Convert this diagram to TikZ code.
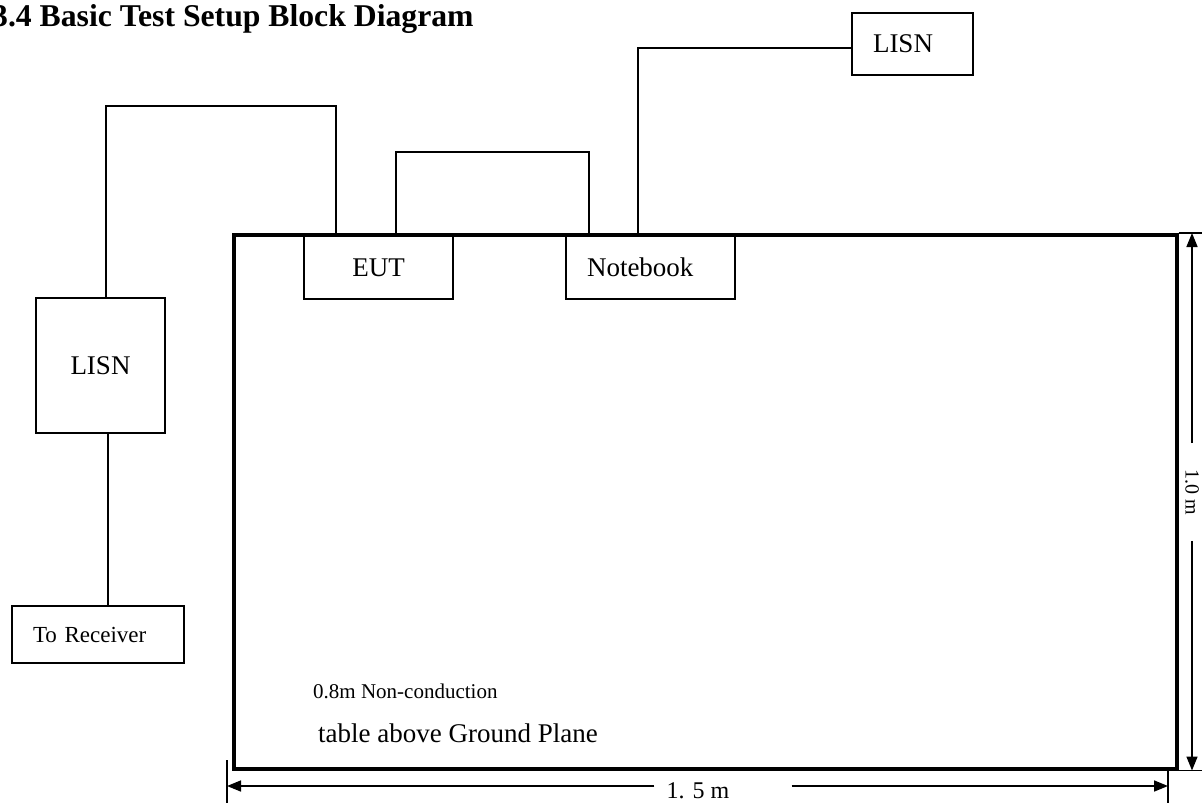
\documentclass[tikz,border=0pt]{standalone}
\usepackage{fontspec}
\setmainfont{Liberation Serif}
\usepackage{tikz}
\usetikzlibrary{arrows.meta, positioning, calc}
\tikzset{
    font=\fontsize{27}{32}\selectfont,
    unit/.style={rectangle, draw=black, line width=2pt, inner sep=0pt, align=center},
    padded/.style={align=left, inner xsep=21pt},
    bench/.style={rectangle, draw=black, line width=3.5pt, inner sep=0pt, anchor=north west},
    cable/.style={draw=black, line width=2pt},
    dimline/.style={draw=black, line width=1.6pt},
    dimarrow/.style={-{Triangle[length=14pt, width=11pt]}, line width=1.6pt},
    dimlabel/.style={font=\fontsize{20}{24}\selectfont, inner sep=0pt},
    heading/.style={font=\fontsize{31.7}{36}\selectfont\bfseries, inner sep=0pt, anchor=base west},
    benchnote/.style={inner sep=0pt, anchor=base west}
}

\begin{document}
\begin{tikzpicture}[x=1pt, y=-1pt]

    \useasboundingbox (0,0) rectangle (1202,803);

    \node (title) [heading] at (-8,26) {3.4 Basic Test Setup Block Diagram};

    \node (tbl) [bench, minimum width=943pt, minimum height=534pt] at (232,233) {};

    \node (eut)   [unit, anchor=north west, minimum width=149pt, minimum height=63pt] at (303,235) {EUT};
    \node (note)  [unit, padded, right=111pt of eut, text width=127pt, minimum height=63pt] {Notebook};
    \node (lisnB) [unit, padded, anchor=north west, text width=79pt, minimum height=62pt] at (851,12) {LISN};
    \node (lisnA) [unit, anchor=north west, minimum width=129pt, minimum height=135pt] at (35,297) {LISN};
    \node (rcv)   [unit, padded, below=171pt of lisnA, xshift=-2.5pt, text width=130pt, minimum height=57pt,
                   font=\fontsize{23}{27}\selectfont] {To Receiver};

    \draw [cable] ([xshift=-42.5pt]eut.north) -- ++(0,-129) -| ([xshift=5pt]lisnA.north);
    \draw [cable] ([xshift=17.5pt]eut.north) -- ++(0,-83) -| ([xshift=24pt]note.north west);
    \draw [cable] ([xshift=-12.5pt]note.north) |- ([yshift=-4pt]lisnB.west);
    \draw [cable] ([xshift=7.5pt]lisnA.south) -- ([xshift=10pt]rcv.north);

    \begin{scope}
        \clip (tbl.north west) rectangle ([yshift=27pt]tbl.south east);
        \node (note1) [benchnote, font=\fontsize{21}{25}\selectfont] at (313,698) {0.8m Non-conduction};
        \node (note2) [benchnote] at (318,742) {table above Ground Plane};
    \end{scope}

    % dimensions
    \draw [dimline] (tbl.north east) -- ++(27,0);
    \draw [dimline] (tbl.south east) -- ++(27,0);
    \node (vlbl) [dimlabel, rotate=-90, inner xsep=26pt] at (1192,492) {1.0 m};
    \draw [dimarrow] (vlbl.west) -- (vlbl.west |- tbl.north);
    \draw [dimarrow] (vlbl.east) -- (vlbl.east |- tbl.south);

    \coordinate (hl) at (227,786);
    \coordinate (hr) at (1168,786);
    \draw [dimline] ([yshift=26pt]hl) -- ([yshift=-17pt]hl);
    \draw [dimline] ([yshift=19pt]hr) -- ([yshift=-17pt]hr);
    \node (hlbl) [dimlabel, font=\fontsize{24}{28}\selectfont, inner xsep=12pt] at (698,791) {1. 5 m};
    \draw [dimarrow] (hlbl.west |- hl) -- (hl);
    \draw [dimarrow] ([xshift=50pt]hlbl.east |- hr) -- (hr);

\end{tikzpicture}
\end{document}
